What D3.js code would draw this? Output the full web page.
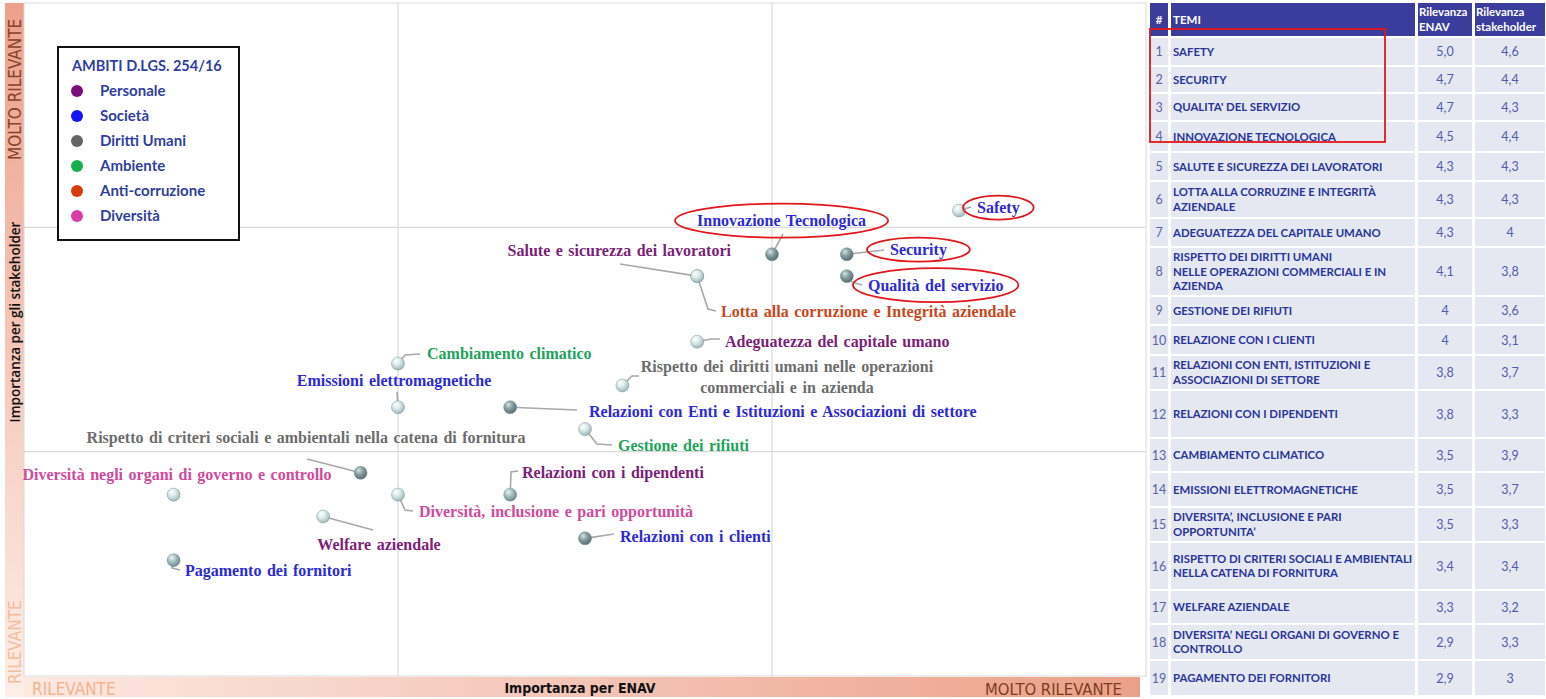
<!DOCTYPE html>
<html>
<head>
<meta charset="utf-8">
<script src="https://cdn.jsdelivr.net/npm/d3@7"></script>
<style>
  body { margin: 0; background: #fff; }
  svg { display: block; }
</style>
</head>
<body>
<svg id="chart" width="1546" height="699"></svg>
<script>
// ---- data ----
const ambiti = ["Personale", "Società", "Diritti Umani", "Ambiente", "Anti-corruzione", "Diversità"];

const temi = [
  "Safety", "Security", "Qualità del servizio", "Innovazione Tecnologica",
  "Salute e sicurezza dei lavoratori", "Lotta alla corruzione e Integrità aziendale",
  "Adeguatezza del capitale umano", "Rispetto dei diritti umani nelle operazioni|commerciali e in azienda",
  "Gestione dei rifiuti", "Relazioni con i clienti",
  "Relazioni con Enti e Istituzioni e Associazioni di settore", "Relazioni con i dipendenti",
  "Cambiamento climatico", "Emissioni elettromagnetiche",
  "Diversità, inclusione e pari opportunità",
  "Rispetto di criteri sociali e ambientali nella catena di fornitura",
  "Welfare aziendale", "Diversità negli organi di governo e controllo", "Pagamento dei fornitori"
];

const temaAmbito = [
  "Società", "Società", "Società", "Società", "Personale", "Anti-corruzione", "Personale",
  "Diritti Umani", "Ambiente", "Società", "Società", "Personale", "Ambiente", "Società",
  "Diversità", "Diritti Umani", "Personale", "Diversità", "Società"
];

const rilevanzaEnav =        [5.0, 4.7, 4.7, 4.5, 4.3, 4.3, 4.3, 4.1, 4.0, 4.0, 3.8, 3.8, 3.5, 3.5, 3.5, 3.4, 3.3, 2.9, 2.9];
const rilevanzaStakeholder = [4.6, 4.4, 4.3, 4.4, 4.3, 4.3, 4.0, 3.8, 3.6, 3.1, 3.7, 3.3, 3.9, 3.7, 3.3, 3.4, 3.2, 3.3, 3.0];

// table texts
const tabellaTemi = [
  "SAFETY", "SECURITY", "QUALITA' DEL SERVIZIO", "INNOVAZIONE TECNOLOGICA",
  "SALUTE E SICUREZZA DEI LAVORATORI", "LOTTA ALLA CORRUZINE E INTEGRITÀ|AZIENDALE",
  "ADEGUATEZZA DEL CAPITALE UMANO",
  "RISPETTO DEI DIRITTI UMANI|NELLE OPERAZIONI COMMERCIALI E IN|AZIENDA",
  "GESTIONE DEI RIFIUTI", "RELAZIONE CON I CLIENTI",
  "RELAZIONI CON ENTI, ISTITUZIONI E|ASSOCIAZIONI DI SETTORE", "RELAZIONI CON I DIPENDENTI",
  "CAMBIAMENTO CLIMATICO", "EMISSIONI ELETTROMAGNETICHE",
  "DIVERSITA’, INCLUSIONE E PARI|OPPORTUNITA’",
  "RISPETTO DI CRITERI SOCIALI E AMBIENTALI|NELLA CATENA DI FORNITURA",
  "WELFARE AZIENDALE", "DIVERSITA’ NEGLI ORGANI DI GOVERNO E|CONTROLLO", "PAGAMENTO DEI FORNITORI"
];
const tabellaEnav = ["5,0", "4,7", "4,7", "4,5", "4,3", "4,3", "4,3", "4,1", "4", "4", "3,8", "3,8", "3,5", "3,5", "3,5", "3,4", "3,3", "2,9", "2,9"];
const tabellaStake = ["4,6", "4,4", "4,3", "4,4", "4,3", "4,3", "4", "3,8", "3,6", "3,1", "3,7", "3,3", "3,9", "3,7", "3,3", "3,4", "3,2", "3,3", "3"];

// ---- styles / layout ----
const dotColor = {"Personale": "#7a0f7a", "Società": "#1414f5", "Diritti Umani": "#646464",
  "Ambiente": "#14b04e", "Anti-corruzione": "#d63c0c", "Diversità": "#d83fa4"};
const textColor = {"Personale": "#7b1f78", "Società": "#2b2bd6", "Diritti Umani": "#6d6d6d",
  "Ambiente": "#22a35a", "Anti-corruzione": "#c9481c", "Diversità": "#d04b9c"};

const pinTone = ["light", "dark", "dark", "dark", "light", "light", "light", "light", "light", "dark",
  "dark", "mid", "light", "light", "light", "dark", "light", "light", "mid"];

// label placement (pixels) and leader bends
const labelPos = [
  {x: 977, y: 207, a: "start", lead: [[971, 207]], ring: [14, 12]},
  {x: 890, y: 249, a: "start", lead: [[884, 250]], ring: [23, 12]},
  {x: 868, y: 285, a: "start", lead: [[852, 282], [862, 285]], ring: [15, 17]},
  {x: 697, y: 220, a: "start", lead: [[783, 234]], ring: [22, 17]},
  {x: 731, y: 250, a: "end", lead: [[620, 264]]},
  {x: 721, y: 311, a: "start", lead: [[708, 309], [716, 311]]},
  {x: 725, y: 341, a: "start", lead: [[711, 339], [720, 339]]},
  {x: 787, y: 366, a: "middle", lead: [[632, 376], [639, 376]]},
  {x: 618, y: 445, a: "start", lead: [[597, 444], [612, 445]]},
  {x: 620, y: 536, a: "start", lead: [[614, 534]]},
  {x: 589, y: 411, a: "start", lead: [[577, 410]]},
  {x: 522, y: 472, a: "start", lead: [[511, 472], [518, 471]]},
  {x: 427, y: 353, a: "start", lead: [[405, 355], [420, 354]]},
  {x: 394, y: 380, a: "middle", lead: [[397, 392]]},
  {x: 419, y: 511, a: "start", lead: [[405, 510], [413, 511]]},
  {x: 306, y: 437, a: "middle", lead: [[307, 459]]},
  {x: 379, y: 544, a: "middle", lead: [[373, 530]]},
  {x: 177, y: 474, a: "middle", lead: []},
  {x: 185, y: 570, a: "start", lead: [[172, 568], [180, 570]]}
];

const plot = {x0: 24, x1: 1146, y0: 3, y1: 676};
const rowTops = [38, 67, 94, 122, 153, 182, 219, 248, 297, 326, 356, 391, 439, 473, 508, 543, 591, 625, 661, 697];
const cols = [[1150, 18], [1171, 244], [1418, 54], [1475, 70]];

const svg = d3.select("#chart");
const defs = svg.append("defs");

const x = d3.scaleLinear().domain([2.5, 5.5]).range([plot.x0, plot.x1]);
const y = d3.scaleLinear().domain([2.47, 5.55]).range([plot.y1, plot.y0]);

// gradients
function linGrad(id, x2, y2, stops) {
  const g = defs.append("linearGradient").attr("id", id)
    .attr("x1", 0).attr("y1", 0).attr("x2", x2).attr("y2", y2);
  stops.forEach(s => g.append("stop").attr("offset", s[0]).attr("stop-color", s[1]));
}
linGrad("bandV", 0, 1, [["0%", "#eea08a"], ["100%", "#fdeee8"]]);
linGrad("bandH", 1, 0, [["0%", "#fce9e2"], ["100%", "#eba089"]]);

const tones = {
  light: ["#ffffff", "#dcebeb", "#9fb8b9"],
  mid: ["#eef4f4", "#a9c2c3", "#6d8a8c"],
  dark: ["#d9e3e3", "#8aa2a4", "#566d6f"]
};
Object.entries(tones).forEach(([k, c]) => {
  const g = defs.append("radialGradient").attr("id", "pin-" + k)
    .attr("cx", "40%").attr("cy", "35%").attr("r", "65%").attr("fx", "35%").attr("fy", "30%");
  g.append("stop").attr("offset", "0%").attr("stop-color", c[0]);
  g.append("stop").attr("offset", "45%").attr("stop-color", c[1]);
  g.append("stop").attr("offset", "100%").attr("stop-color", c[2]);
});

// bands
svg.append("rect").attr("x", 5).attr("y", 3).attr("width", 19).attr("height", 694).attr("fill", "url(#bandV)");
svg.append("rect").attr("x", 24).attr("y", 677).attr("width", 1116).attr("height", 20).attr("fill", "url(#bandH)");

// plot frame + quadrant lines
svg.append("rect").attr("x", plot.x0).attr("y", plot.y0)
  .attr("width", plot.x1 - plot.x0).attr("height", plot.y1 - plot.y0)
  .attr("fill", "#fff").attr("stroke", "#d9d9d9");

const xDiv = [1, 2].map(k => x.domain()[0] + k * (x.domain()[1] - x.domain()[0]) / 3);
const yDiv = [1, 2].map(k => y.domain()[0] + k * (y.domain()[1] - y.domain()[0]) / 3);
svg.append("g").selectAll("line").data(xDiv).join("line")
  .attr("x1", d => x(d)).attr("x2", d => x(d)).attr("y1", plot.y0).attr("y2", plot.y1)
  .attr("stroke", "#d9d9d9").attr("stroke-width", 1.2);
svg.append("g").selectAll("line").data(yDiv).join("line")
  .attr("y1", d => y(d)).attr("y2", d => y(d)).attr("x1", plot.x0).attr("x2", plot.x1)
  .attr("stroke", "#d9d9d9").attr("stroke-width", 1.2);

// axis band texts
const narrow = "'Liberation Sans Narrow', 'DejaVu Sans Condensed', sans-serif";
svg.append("text").attr("transform", "translate(21,160) rotate(-90)")
  .attr("font-family", narrow).attr("font-size", 17).attr("fill", "#86442a").text("MOLTO RILEVANTE");
svg.append("text").attr("transform", "translate(21,684) rotate(-90)")
  .attr("font-family", narrow).attr("font-size", 17).attr("fill", "#f5bc9c").text("RILEVANTE");
svg.append("text").attr("transform", "translate(20,322) rotate(-90)").attr("text-anchor", "middle")
  .attr("font-family", "'Open Sans', sans-serif").attr("font-weight", 600).attr("font-size", 13.5)
  .attr("fill", "#111").text("Importanza  per gli stakeholder");
svg.append("text").attr("x", 32).attr("y", 695)
  .attr("font-family", narrow).attr("font-size", 17).attr("fill", "#f3b48e").text("RILEVANTE");
svg.append("text").attr("x", 580).attr("y", 693).attr("text-anchor", "middle")
  .attr("font-family", narrow).attr("font-weight", "bold").attr("font-size", 14)
  .attr("fill", "#111").text("Importanza  per ENAV");
svg.append("text").attr("x", 1122).attr("y", 695).attr("text-anchor", "end")
  .attr("font-family", narrow).attr("font-size", 16.5).attr("fill", "#7d3c20").text("MOLTO RILEVANTE");

// points
const pts = temi.map((t, i) => ({
  tema: t, ambito: temaAmbito[i], px: x(rilevanzaEnav[i]), py: y(rilevanzaStakeholder[i]),
  tone: pinTone[i], lab: labelPos[i]
}));

// leaders
const line = d3.line();
svg.append("g").selectAll("path").data(pts.filter(d => d.lab.lead.length)).join("path")
  .attr("d", d => line([[d.px, d.py]].concat(d.lab.lead)))
  .attr("fill", "none").attr("stroke", "#a8a8a8").attr("stroke-width", 1.6);

// pins
svg.append("g").selectAll("circle").data(pts).join("circle")
  .attr("cx", d => d.px).attr("cy", d => d.py).attr("r", 6.5)
  .attr("fill", d => "url(#pin-" + d.tone + ")")
  .attr("stroke", "#7d9597").attr("stroke-width", 0.5);

// labels
const serif = "'Liberation Serif', 'Times New Roman', serif";
const labels = svg.append("g").selectAll("text").data(pts).join("text")
  .attr("x", d => d.lab.x).attr("y", d => d.lab.y)
  .attr("text-anchor", d => d.lab.a)
  .attr("font-family", serif).attr("font-weight", "bold").attr("font-size", 16)
  .attr("word-spacing", 1.5)
  .attr("fill", d => textColor[d.ambito]);
labels.each(function(d) {
  const parts = d.tema.split("|");
  d3.select(this).selectAll("tspan").data(parts).join("tspan")
    .attr("x", d.lab.x).attr("dy", (p, j) => j === 0 ? "0.35em" : 21)
    .text(p => p);
});

// red rings around the key themes
labels.filter(d => d.lab.ring).each(function(d) {
  const b = this.getBBox();
  svg.append("ellipse")
    .attr("cx", b.x + b.width / 2).attr("cy", b.y + b.height / 2)
    .attr("rx", b.width / 2 + d.lab.ring[0]).attr("ry", d.lab.ring[1])
    .attr("fill", "none").attr("stroke", "#e3161c").attr("stroke-width", 1.8);
});

// legend
const leg = svg.append("g");
leg.append("rect").attr("x", 58).attr("y", 47).attr("width", 181).attr("height", 193)
  .attr("fill", "#fff").attr("stroke", "#111").attr("stroke-width", 2);
leg.append("text").attr("x", 72).attr("y", 71)
  .attr("font-family", "Lato, sans-serif").attr("font-weight", "bold").attr("font-size", 14.5)
  .attr("fill", "#2f3f9f").text("AMBITI D.LGS. 254/16");
const li = leg.selectAll("g.item").data(ambiti).join("g").attr("class", "item")
  .attr("transform", (d, i) => "translate(0," + (91 + i * 25) + ")");
li.append("circle").attr("cx", 77).attr("cy", 0).attr("r", 6).attr("fill", d => dotColor[d]);
li.append("text").attr("x", 100).attr("y", 5)
  .attr("font-family", "Lato, sans-serif").attr("font-weight", "bold").attr("font-size", 15)
  .attr("fill", "#2f3f9f").text(d => d);

// table
const tb = svg.append("g").attr("font-family", "Lato, sans-serif");
tb.selectAll("rect.h").data(cols).join("rect").attr("class", "h")
  .attr("x", c => c[0]).attr("y", 3).attr("width", c => c[1]).attr("height", 33).attr("fill", "#3a3d9c");
tb.append("text").attr("x", 1159).attr("y", 24).attr("text-anchor", "middle")
  .attr("font-weight", "bold").attr("font-size", 11.5).attr("fill", "#fff").text("#");
tb.append("text").attr("x", 1173).attr("y", 24)
  .attr("font-weight", "bold").attr("font-size", 11.5).attr("fill", "#fff").text("TEMI");
[["Rilevanza", "ENAV", 1419], ["Rilevanza", "stakeholder", 1476]].forEach(h => {
  const t = tb.append("text").attr("font-weight", "bold").attr("font-size", 11.5).attr("fill", "#fff");
  t.append("tspan").attr("x", h[2]).attr("y", 16).text(h[0]);
  t.append("tspan").attr("x", h[2]).attr("y", 31).text(h[1]);
});

const rows = tabellaTemi.map((t, i) => ({
  n: i + 1, tema: t, enav: tabellaEnav[i], stake: tabellaStake[i],
  top: rowTops[i], h: rowTops[i + 1] - rowTops[i] - 2
}));
const rg = tb.selectAll("g.row").data(rows).join("g").attr("class", "row")
  .attr("transform", d => "translate(0," + d.top + ")");
cols.forEach(c => {
  rg.append("rect").attr("x", c[0]).attr("y", 0).attr("width", c[1]).attr("height", d => d.h)
    .attr("fill", "#e5e7f1");
});
rg.append("text").attr("x", 1159).attr("y", d => d.h / 2 + 4.5).attr("text-anchor", "middle")
  .attr("font-size", 12.5).attr("fill", "#5664a8").text(d => d.n);
rg.append("text").attr("x", 1445).attr("y", d => d.h / 2 + 4.5).attr("text-anchor", "middle")
  .attr("font-size", 12.5).attr("fill", "#4d5cae").text(d => d.enav);
rg.append("text").attr("x", 1510).attr("y", d => d.h / 2 + 4.5).attr("text-anchor", "middle")
  .attr("font-size", 12.5).attr("fill", "#4d5cae").text(d => d.stake);
rg.append("text").attr("font-weight", "bold").attr("font-size", 11.4).attr("fill", "#27359a")
  .each(function(d) {
    const parts = d.tema.split("|");
    const lh = 14.5;
    const y0 = d.h / 2 - (parts.length - 1) * lh / 2 + 4;
    d3.select(this).selectAll("tspan").data(parts).join("tspan")
      .attr("x", 1173).attr("y", (p, j) => y0 + j * lh).text(p => p);
  });

// red frame on top four themes
svg.append("rect").attr("x", 1150).attr("y", 29).attr("width", 235).attr("height", 113)
  .attr("fill", "none").attr("stroke", "#e3161c").attr("stroke-width", 1.8);
</script>
</body>
</html>
